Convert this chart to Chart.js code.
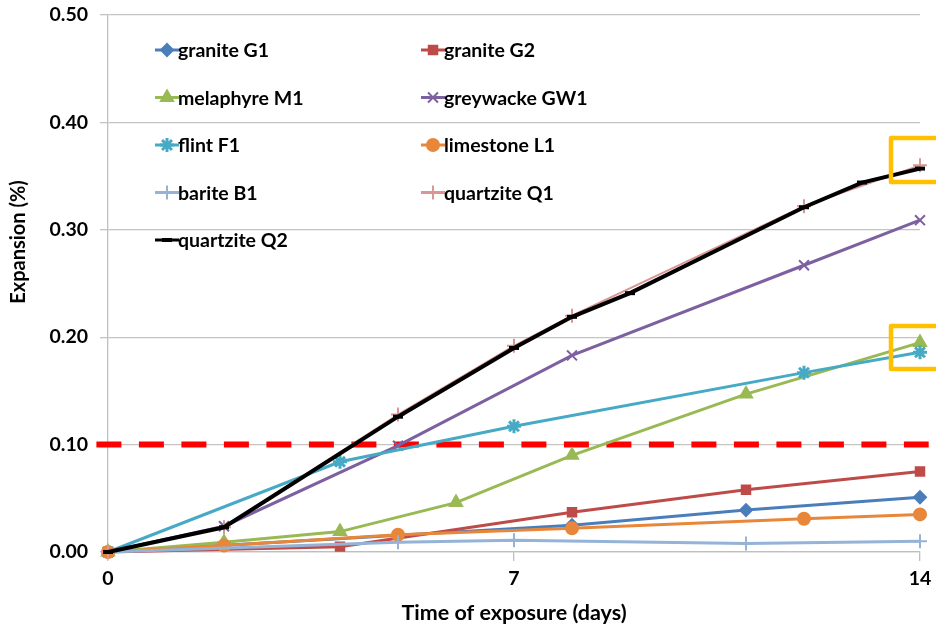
<!DOCTYPE html>
<html>
<head>
<meta charset="utf-8">
<script src="https://cdn.jsdelivr.net/npm/chart.js@4.4.0/dist/chart.umd.min.js"></script>
<style>
  html, body { margin: 0; padding: 0; background: #fff; }
  #wrap { width: 936px; height: 630px; }
</style>
</head>
<body>
<div id="wrap"><canvas id="chart" width="936" height="630"></canvas></div>
<script>
// days of measurement and expansion (%) per aggregate
const g1Days = [0, 8, 11, 14];
const g1Vals = [0, 0.025, 0.039, 0.051];
const g2Days = [0, 4, 8, 11, 14];
const g2Vals = [0, 0.005, 0.037, 0.058, 0.075];
const m1Days = [0, 2, 4, 6, 8, 11, 14];
const m1Vals = [0, 0.009, 0.019, 0.046, 0.090, 0.147, 0.195];
const gw1Days = [0, 2, 5, 8, 12, 14];
const gw1Vals = [0, 0.024, 0.099, 0.183, 0.267, 0.309];
const f1Days = [0, 4, 7, 12, 14];
const f1Vals = [0, 0.084, 0.117, 0.167, 0.186];
const l1Days = [0, 2, 5, 8, 12, 14];
const l1Vals = [0, 0.006, 0.016, 0.022, 0.031, 0.035];
const b1Days = [0, 5, 7, 11, 14];
const b1Vals = [0, 0.009, 0.011, 0.008, 0.010];
const q1Days = [0, 2, 5, 7, 8, 12, 14];
const q1Vals = [0, 0.023, 0.128, 0.192, 0.220, 0.322, 0.360];
const q2Days = [0, 2, 5, 7, 8, 9, 12, 13, 14];
const q2Vals = [0, 0.023, 0.126, 0.190, 0.219, 0.241, 0.321, 0.344, 0.357];

// 0.10 % limit line
const limitDays = [-0.2, 14.15];
const limitVals = [0.10, 0.10];

const xTicks = [0, 7, 14];
const yMax = 0.5;

function pts(days, vals) {
    return days.map((d, i) => ({x: d, y: vals[i]}));
}

let seriesCount = 0;
function series(label, days, vals, color, style, radius, extra) {
    seriesCount++;
    return Object.assign({
        label: label,
        data: pts(days, vals),
        borderColor: color,
        backgroundColor: color,
        borderWidth: 3,
        pointStyle: style,
        pointRadius: radius,
        pointBorderWidth: 2,
        pointBorderColor: color,
        pointBackgroundColor: color,
        tension: 0,
        clip: false,
        order: -seriesCount   // later series on top, like the original
    }, extra || {});
}

const datasets = [
    series('granite G1', g1Days, g1Vals, '#4a7ebb', 'rectRot', 6),
    series('granite G2', g2Days, g2Vals, '#be4b48', 'rect', 6),
    series('melaphyre M1', m1Days, m1Vals, '#98b954', 'triangle', 7),
    series('greywacke GW1', gw1Days, gw1Vals, '#7d60a0', 'crossRot', 7),
    series('flint F1', f1Days, f1Vals, '#46aac5', 'star', 7, {pointBorderWidth: 3}),
    series('limestone L1', l1Days, l1Vals, '#e8873a', 'circle', 6),
    series('barite B1', b1Days, b1Vals, '#95b3d7', 'cross', 7),
    series('quartzite Q1', q1Days, q1Vals, '#d99694', 'cross', 7, {borderWidth: 2}),
    series('quartzite Q2', q2Days, q2Vals, '#000000', 'line', 5, {borderWidth: 4, pointBorderWidth: 4}),
    {
        label: 'limit',
        data: pts(limitDays, limitVals),
        borderColor: '#ff0000',
        borderWidth: 6,
        borderDash: [25, 17.5],
        pointRadius: 0,
        clip: false,
        order: 20
    }
];

// legend inside the plot, two columns, plus the y axis title
const insideLegend = {
    id: 'insideLegend',
    afterDraw(chart) {
        const ctx = chart.ctx;
        const cols = [167, 433];
        ctx.save();
        ctx.font = 'bold 19.5px Lato';
        ctx.textBaseline = 'middle';
        let n = 0;
        chart.data.datasets.forEach(ds => {
            if (ds.label === 'limit') return;
            const cx = cols[n % 2];
            const cy = 50 + Math.floor(n / 2) * 47.5;
            ctx.strokeStyle = ds.borderColor;
            ctx.lineWidth = 3;
            ctx.beginPath();
            ctx.moveTo(cx - 12, cy);
            ctx.lineTo(cx + 12, cy);
            ctx.stroke();
            ctx.fillStyle = ds.pointBackgroundColor;
            ctx.strokeStyle = ds.pointBorderColor;
            ctx.lineWidth = ds.pointBorderWidth;
            Chart.helpers.drawPoint(ctx, {pointStyle: ds.pointStyle, radius: ds.pointRadius, borderWidth: ds.pointBorderWidth, rotation: 0}, cx, cy);
            ctx.fillStyle = '#000';
            ctx.fillText(ds.label, cx + 11, cy + 1);
            n++;
        });

        // y title sits a little above the middle of the axis in the original
        ctx.translate(19, 242);
        ctx.rotate(-Math.PI / 2);
        ctx.textAlign = 'center';
        ctx.font = 'bold 20px Lato';
        ctx.fillStyle = '#000';
        ctx.fillText('Expansion (%)', 0, 0);
        ctx.restore();
    }
};

// yellow highlight boxes at the 14 day readings
const highlightBoxes = {
    id: 'highlightBoxes',
    afterDraw(chart) {
        const x = chart.scales.x, y = chart.scales.y;
        const boxes = [[13.5, 14.5, 0.3855, 0.3445], [13.5, 14.5, 0.2104, 0.1704]];
        const ctx = chart.ctx;
        ctx.save();
        ctx.strokeStyle = '#ffc000';
        ctx.lineWidth = 4.5;
        ctx.lineJoin = 'round';
        boxes.forEach(b => {
            const l = x.getPixelForValue(b[0]), r = x.getPixelForValue(b[1]);
            const t = y.getPixelForValue(b[2]), btm = y.getPixelForValue(b[3]);
            ctx.strokeRect(l, t, r - l, btm - t);
        });
        ctx.restore();
    }
};

new Chart(document.getElementById('chart'), {
    type: 'line',
    data: {datasets: datasets},
    plugins: [insideLegend, highlightBoxes],
    options: {
        responsive: false,
        animation: false,
        layout: {padding: {top: 15, right: 16, left: 0, bottom: 0}},
        plugins: {legend: {display: false}, tooltip: {enabled: false}},
        scales: {
            x: {
                type: 'linear',
                min: 0,
                max: 14,
                afterBuildTicks: s => { s.ticks = xTicks.map(v => ({value: v})); },
                afterFit: s => { s.height = 78; s.paddingRight = 0; s.paddingLeft = 0; },
                grid: {drawOnChartArea: false, drawTicks: true, tickLength: 9, color: '#bfbfbf', lineWidth: 1.3},
                border: {color: '#bfbfbf', width: 1.3},
                ticks: {color: '#000', font: {family: 'Lato', weight: 'bold', size: 19.5}, padding: 6, maxRotation: 0},
                title: {display: true, text: 'Time of exposure (days)', color: '#000', font: {family: 'Lato', weight: 'bold', size: 21.5}, padding: {top: 0}}
            },
            y: {
                min: 0,
                max: yMax,
                ticks: {stepSize: 0.1, color: '#000', font: {family: 'Lato', weight: 'bold', size: 19.5}, padding: 12,
                        callback: v => v.toFixed(2)},
                afterFit: s => { s.width = 108; s.paddingTop = 0; s.paddingBottom = 0; },
                grid: {color: '#c4c4c4', lineWidth: 1.3, tickLength: 8},
                border: {color: '#bfbfbf', width: 1.3},
                title: {display: false}
            }
        }
    }
});
</script>
</body>
</html>
